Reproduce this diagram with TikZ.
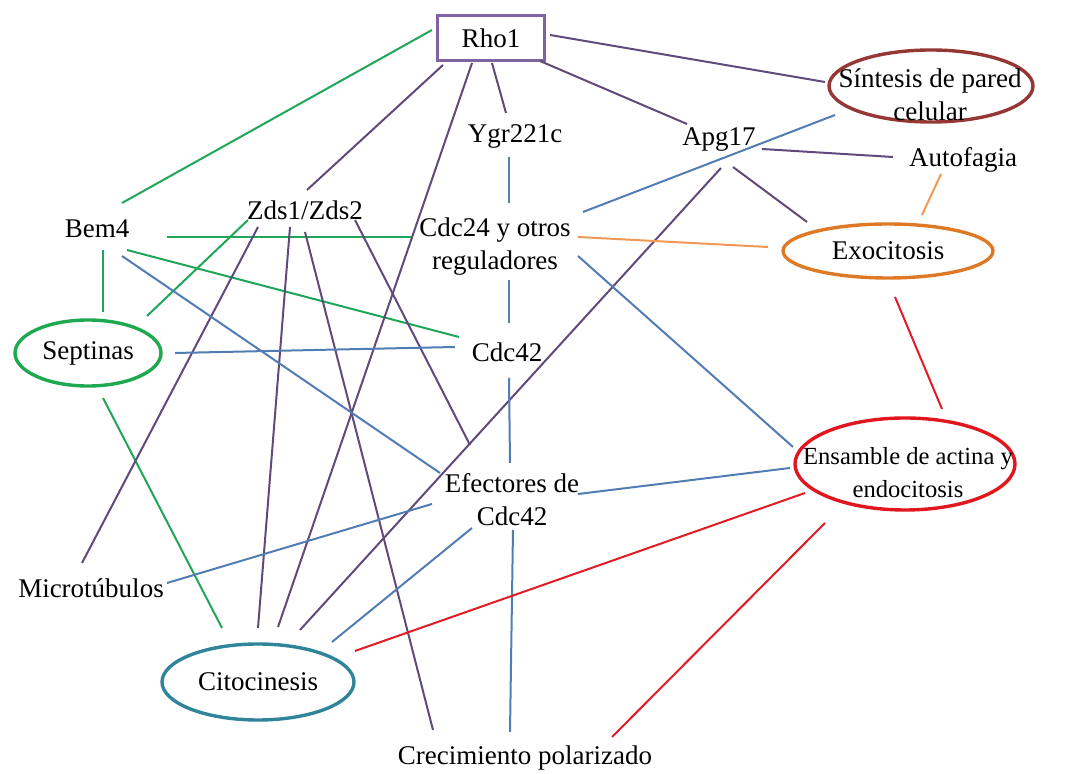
\documentclass[tikz,border=0pt]{standalone}
\usepackage{fontspec}
\setmainfont{Liberation Serif}
\usetikzlibrary{shapes.geometric}

\definecolor{linepurple}{RGB}{96,74,123}
\definecolor{linegreen}{RGB}{32,166,88}
\definecolor{lineblue}{RGB}{82,124,180}
\definecolor{lineorange}{RGB}{240,152,84}
\definecolor{linered}{RGB}{226,28,36}
\definecolor{rhoframe}{RGB}{128,100,162}
\definecolor{wallred}{RGB}{149,55,53}
\definecolor{exoorange}{RGB}{222,122,38}
\definecolor{septgreen}{RGB}{30,168,80}
\definecolor{citoteal}{RGB}{49,133,155}
\definecolor{actinred}{RGB}{226,22,30}

\tikzset{
  every node/.style={font=\fontsize{13.5}{16.5}\selectfont, inner sep=0pt},
  process/.style={ellipse, draw, line width=1.7pt},
  conn/.style={line width=1pt},
}

\begin{document}
\begin{tikzpicture}[x=0.5pt, y=-0.5pt]
  \useasboundingbox (0, 0) rectangle (1089, 774);

  % proteins and processes
  \node[draw=rhoframe, line width=1.5pt, minimum width=53.5pt,
    minimum height=22.5pt] (rho) at (491, 38) {Rho1};
  \node (ygr) at (515, 136) {Ygr221c};
  \node (apg) at (719, 140) {Apg17};
  \node (autof) at (963, 160) {Autofagia};
  \node (bem) at (97, 229) {Bem4};
  \node (zds) at (305, 210) {Zds1/Zds2};
  \node[align=center] (cdc24) at (495, 247) {Cdc24 y otros\\reguladores};
  \node (cdc42) at (507, 352) {Cdc42};
  \node[align=center] (efe) at (512, 500) {Efectores de\\Cdc42};
  \node (micro) at (91, 588) {Microtúbulos};
  \node (crec) at (525, 758) {Crecimiento polarizado};

  \node[process, draw=wallred, minimum width=102pt, minimum height=36pt]
    (sint) at (931, 86) {};
  \node[align=center] (sinttext) at (930, 95) {Síntesis de pared\\celular};
  \node[process, draw=exoorange, minimum width=105pt, minimum height=27pt]
    (exo) at (888, 251) {Exocitosis};
  \node[process, draw=septgreen, minimum width=73pt, minimum height=33pt]
    (sept) at (88, 353) {Septinas};
  \node[process, draw=actinred, minimum width=110pt, minimum height=46pt]
    (ens) at (905, 464) {};
  \node[align=center, font=\fontsize{12.3}{16.5}\selectfont]
    (enstext) at (908, 473) {Ensamble de actina y\\endocitosis};
  \node[process, draw=citoteal, minimum width=96pt, minimum height=38pt]
    (cito) at (258, 682) {Citocinesis};

  % green links
  \draw[conn, linegreen] ([shift={(-59,-8)}]rho.center) -- ([shift={(25,-26)}]bem.center);
  \draw[conn, linegreen] ([shift={(70,8)}]bem.center) -- ([shift={(-83,-10)}]cdc24.center);
  \draw[conn, linegreen] ([shift={(30,21)}]bem.center) -- ([shift={(-48,-15)}]cdc42.center);
  \draw[conn, linegreen] ([shift={(6,21)}]bem.center) -- ([shift={(15,-41)}]sept.center);
  \draw[conn, linegreen] ([shift={(-57,10)}]zds.center) -- ([shift={(59,-37)}]sept.center);
  \draw[conn, linegreen] ([shift={(15,45)}]sept.center) -- ([shift={(-36,-54)}]cito.center);

  % purple links
  \draw[conn, linepurple] ([shift={(-48,27)}]rho.center) -- ([shift={(2,-20)}]zds.center);
  \draw[conn, linepurple] ([shift={(-19,25)}]rho.center) -- ([shift={(20,-55)}]cito.center);
  \draw[conn, linepurple] ([shift={(1,25)}]rho.center) -- ([shift={(-9,-23)}]ygr.center);
  \draw[conn, linepurple] ([shift={(49,23)}]rho.center) -- ([shift={(-32,-16)}]apg.center);
  \draw[conn, linepurple] ([shift={(59,-3)}]rho.center) -- ([shift={(-106,-4)}]sint.center);
  \draw[conn, linepurple] ([shift={(43,9)}]apg.center) -- ([shift={(-70,-3)}]autof.center);
  \draw[conn, linepurple] ([shift={(14,27)}]apg.center) -- ([shift={(-81,-29)}]exo.center);
  \draw[conn, linepurple] ([shift={(2,28)}]apg.center) -- ([shift={(42,-52)}]cito.center);
  \draw[conn, linepurple] ([shift={(-47,17)}]zds.center) -- ([shift={(-9,-25)}]micro.center);
  \draw[conn, linepurple] ([shift={(-15,17)}]zds.center) -- ([shift={(0,-54)}]cito.center);
  \draw[conn, linepurple] ([shift={(0,22)}]zds.center) -- ([shift={(-92,-28)}]crec.center);
  \draw[conn, linepurple] ([shift={(50,10)}]zds.center) -- ([shift={(-42,-55)}]efe.center);

  % blue links
  \draw[conn, lineblue] ([shift={(-6,21)}]ygr.center) -- ([shift={(14,-44)}]cdc24.center);
  \draw[conn, lineblue] ([shift={(14,33)}]cdc24.center) -- ([shift={(2,-29)}]cdc42.center);
  \draw[conn, lineblue] ([shift={(2,26)}]cdc42.center) -- ([shift={(-2,-37)}]efe.center);
  \draw[conn, lineblue] ([shift={(1,30)}]efe.center) -- ([shift={(-15,-26)}]crec.center);
  \draw[conn, lineblue] ([shift={(87,0)}]sept.center) -- ([shift={(-52,-5)}]cdc42.center);
  \draw[conn, lineblue] ([shift={(25,27)}]bem.center) -- ([shift={(-72,-27)}]efe.center);
  \draw[conn, lineblue] ([shift={(88,-35)}]cdc24.center) -- ([shift={(-96,29)}]sint.center);
  \draw[conn, lineblue] ([shift={(83,9)}]cdc24.center) -- ([shift={(-112,-17)}]ens.center);
  \draw[conn, lineblue] ([shift={(-115,4)}]ens.center) -- ([shift={(66,-6)}]efe.center);
  \draw[conn, lineblue] ([shift={(76,-5)}]micro.center) -- ([shift={(-80,4)}]efe.center);
  \draw[conn, lineblue] ([shift={(74,-40)}]cito.center) -- ([shift={(-40,28)}]efe.center);

  % orange links
  \draw[conn, lineorange] ([shift={(83,-10)}]cdc24.center) -- ([shift={(-120,-4)}]exo.center);
  \draw[conn, lineorange] ([shift={(-22,14)}]autof.center) -- ([shift={(34,-36)}]exo.center);

  % red links
  \draw[conn, linered] ([shift={(7,46)}]exo.center) -- ([shift={(37,-55)}]ens.center);
  \draw[conn, linered] ([shift={(-100,29)}]ens.center) -- ([shift={(97,-31)}]cito.center);
  \draw[conn, linered] ([shift={(-80,59)}]ens.center) -- ([shift={(87,-21)}]crec.center);
\end{tikzpicture}
\end{document}
